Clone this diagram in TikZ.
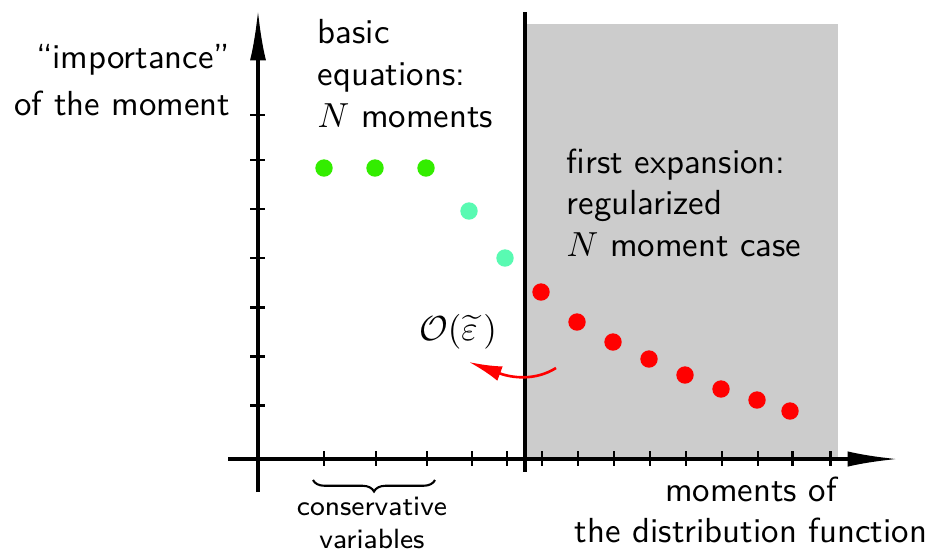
\documentclass[tikz,border=0pt]{standalone}
\usetikzlibrary{arrows.meta,decorations.pathreplacing}
\definecolor{dotgreen}{rgb}{0.2,0.93,0}
\definecolor{dotcyan}{rgb}{0.35,0.98,0.7}
\definecolor{bggray}{gray}{0.8}
\begin{document}
\begin{tikzpicture}[x=0.2874pt,y=-0.2874pt,
  axisline/.style={line width=0.95pt},
  tickline/.style={line width=0.85pt},
  dot/.style={circle,inner sep=0pt,minimum size=5pt},
  lbl/.style={font=\sffamily,inner sep=0pt}]
\useasboundingbox (0,0) rectangle (927,548);
% shaded region
\fill[bggray] (525,24) rectangle (838,459);
% axes
\coordinate (yb) at (258,492);
\coordinate (yt) at (258,10);
\coordinate (xl) at (228,459);
\coordinate (xr) at (898,459);
\draw[axisline,-{Latex[length=14.5pt,width=4.6pt]}] (yb) -- (yt);
\draw[axisline,-{Latex[length=14.5pt,width=4.4pt]}] (xl) -- (xr);
% divider
\coordinate (dt) at (525,12);
\coordinate (db) at (525,472);
\draw[axisline] (dt) -- (db);
% ticks
\foreach \y in {115,160,209,258,307,356,405}
  \draw[tickline] (250,\y) -- (265,\y);
\foreach \x in {324,376,427,472,507,542,578,614,650,686,722,758,792,830}
  \draw[tickline] (\x,451) -- (\x,466);
% dots
\node[dot,fill=dotgreen] (g1) at (324,168) {};
\node[dot,fill=dotgreen] (g2) at (375,168) {};
\node[dot,fill=dotgreen] (g3) at (426,168) {};
\node[dot,fill=dotcyan] (c1) at (469,211) {};
\node[dot,fill=dotcyan] (c2) at (505,258) {};
\node[dot,fill=red] (r1) at (541,292) {};
\node[dot,fill=red] (r2) at (577,322) {};
\node[dot,fill=red] (r3) at (613,342) {};
\node[dot,fill=red] (r4) at (649,359) {};
\node[dot,fill=red] (r5) at (685,375) {};
\node[dot,fill=red] (r6) at (721,389) {};
\node[dot,fill=red] (r7) at (757,400) {};
\node[dot,fill=red] (r8) at (790,411) {};
% labels
\node[lbl,align=right,anchor=east] (ylab) at (231,80) {``importance''\\[1.5pt]of the moment};
\node[lbl,align=left,anchor=north west] (basic) at (317,19) {basic\\equations:\\$N$ moments};
\node[lbl,align=left,anchor=north west] (first) at (566,148) {first expansion:\\regularized\\$N$ moment case};
\node[lbl,align=center] (xlab) at (751,510) {moments of\\the distribution function};
\node[inner sep=0pt] (eps) at (458,332) {$\mathcal{O}(\widetilde{\varepsilon}\,)$};
% red arrow
\coordinate (as) at (556,368);
\coordinate (ae) at (469,362);
\draw[red,line width=0.75pt,-{Latex[length=9.5pt,width=4.4pt]}] (as) .. controls (535,381) and (512,378) .. (ae);
% brace
\coordinate (bl) at (313,480);
\coordinate (br) at (435,480);
\draw[line width=0.6pt,decorate,decoration={brace,mirror,amplitude=3.3pt}] (bl) -- (br);
\node[lbl,font=\sffamily\footnotesize,align=center] (cons) at (372,523) {conservative\\variables};
\end{tikzpicture}
\end{document}
